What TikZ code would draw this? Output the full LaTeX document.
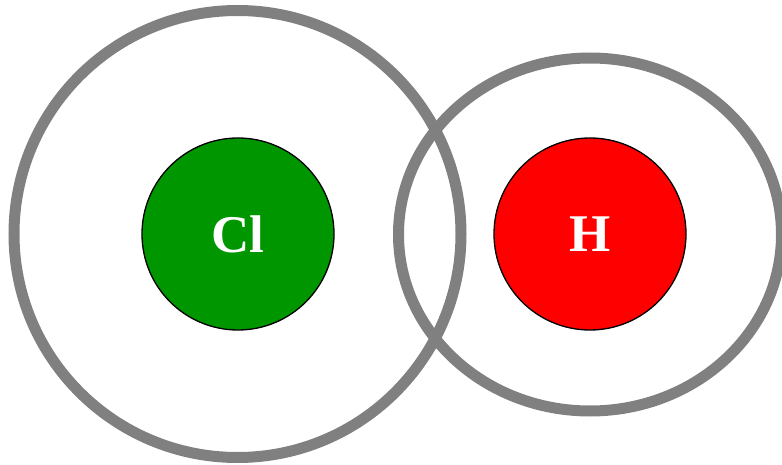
\documentclass[tikz,border=0pt]{standalone}
\usepackage{fontspec}
\setmainfont{Liberation Serif}
\usetikzlibrary{shapes.geometric}
\definecolor{shellgray}{RGB}{128,128,128}
\definecolor{clgreen}{RGB}{0,150,0}
\definecolor{hred}{RGB}{255,0,0}
\begin{document}
\begin{tikzpicture}[x=1pt,y=-1pt,
  shell/.style={draw=shellgray, line width=11pt, inner sep=0pt, outer sep=0pt},
  atom/.style={circle, draw=black, line width=1.3pt, minimum size=192pt, inner sep=0pt,
    text=white, font=\fontsize{53}{53}\selectfont\bfseries}]
\useasboundingbox (0,0) rectangle (782,465);
\node[shell, circle, minimum size=447pt] (clshell) at (237.5,234) {};
\node[shell, ellipse, minimum width=383pt, minimum height=353pt] (hshell) at (590,234.5) {};
\node[atom, fill=clgreen] (cl) at (238,234) {Cl};
\node[atom, fill=hred] (h) at (590,234) {H};
\end{tikzpicture}
\end{document}
